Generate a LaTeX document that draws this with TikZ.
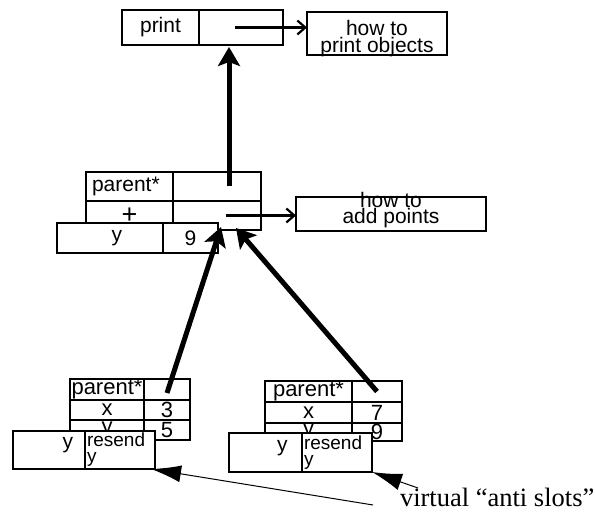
\documentclass[tikz,border=0pt]{standalone}
\usepackage{fontspec}
\setmainfont{Liberation Sans}
\newfontfamily\timesfont{Liberation Serif}
\usetikzlibrary{positioning,arrows.meta}

\begin{document}
\begin{tikzpicture}[x=1pt, y=-1pt,
    every node/.style={inner sep=0pt, outer sep=0pt},
    cell/.style={draw, fill=white, line width=1.2pt, font=\fontsize{21}{15}\selectfont},
    lowcell/.style={cell, font=\fontsize{22}{16}\selectfont},
    slotname/.style={cell, text width=#1, align=right, text height=8pt, text depth=10pt},
    resendcell/.style={cell, text width=66pt, align=left, font=\fontsize{19}{16}\selectfont},
    howbox/.style={draw, line width=1.2pt},
    link/.style={line width=2.2pt, -{Straight Barb[length=8pt,width=14pt]}},
    parentlink/.style={line width=5pt, -{Stealth[length=19pt,width=22pt,inset=4pt]}},
    note/.style={line width=1pt, -{Latex[length=30pt,width=17pt]}}]
  \useasboundingbox (0,0) rectangle (595,518);

  \node [cell, minimum width=77pt, minimum height=35pt] (print) at (160.5,27.5) {print};
  \node [cell, minimum width=84pt, minimum height=35pt, right=0pt of print] (printval) {};
  \node [howbox, minimum width=140pt, minimum height=43pt,
         label={[align=center, yshift=-5pt, font=\fontsize{21}{15}\selectfont]center:how to\\print objects}] (howprint) at (377,33.5) {};

  \node [cell, minimum width=87pt, minimum height=29pt, text width=75pt, align=left] (parent) at (129.5,186.5) {parent*};
  \node [cell, minimum width=88pt, minimum height=29pt, right=0pt of parent] (parentval) {};
  \node [cell, minimum width=87pt, minimum height=29pt, below=0pt of parent, font=\fontsize{27}{20}\selectfont] (plus) {+};
  \node [cell, minimum width=88pt, minimum height=29pt, right=0pt of plus] (plusval) {};
  \node [slotname=24pt, minimum width=106pt, minimum height=30pt, text height=12pt, text depth=5pt] (yslot) at (110,238) {y};
  \node [cell, minimum width=55pt, minimum height=30pt, right=0pt of yslot] (yval) {9};
  \node [howbox, minimum width=190pt, minimum height=34pt,
         label={[align=center, yshift=4pt, font=\fontsize{21}{12}\selectfont]center:how to\\add points}] (howadd) at (391,214) {};

  \node [lowcell, minimum width=74pt, minimum height=21pt] (pa) at (107,389.5) {parent*};
  \node [lowcell, minimum width=46pt, minimum height=21pt, right=0pt of pa] (pav) {};
  \node [lowcell, minimum width=74pt, minimum height=20pt, below=0pt of pa] (px) {x};
  \node [lowcell, minimum width=46pt, minimum height=20pt, right=0pt of px] (pxv) {3};
  \node [lowcell, minimum width=74pt, minimum height=20pt, below=0pt of px] (py) {y};
  \node [lowcell, minimum width=46pt, minimum height=20pt, right=0pt of py] (pyv) {5};
  \node [slotname=48pt, minimum width=72pt, minimum height=38pt] (pslot) at (49,450) {y};
  \node [resendcell, minimum width=70pt, minimum height=38pt, right=0pt of pslot] (pres) {resend\\y};

  \node [lowcell, minimum width=87pt, minimum height=21pt] (qa) at (308.5,391.5) {parent*};
  \node [lowcell, minimum width=50pt, minimum height=21pt, right=0pt of qa] (qav) {};
  \node [lowcell, minimum width=87pt, minimum height=21pt, below=0pt of qa] (qx) {x};
  \node [lowcell, minimum width=50pt, minimum height=21pt, right=0pt of qx] (qxv) {7};
  \node [lowcell, minimum width=87pt, minimum height=18pt, below=0pt of qx] (qy) {y};
  \node [lowcell, minimum width=50pt, minimum height=18pt, right=0pt of qy] (qyv) {9};
  \node [slotname=44pt, minimum width=73pt, minimum height=39pt] (qslot) at (265.5,452.5) {y};
  \node [resendcell, minimum width=70pt, minimum height=39pt, right=0pt of qslot] (qres) {resend\\y};

  \node [font=\timesfont\fontsize{26.5}{30}\selectfont, anchor=base west] (anti) at (400,507) {virtual “anti slots”};

  \draw [link] ([xshift=-6pt]printval.center) -- (howprint.west |- printval.center);
  \draw [link] ([xshift=9pt]plusval.center) -- (howadd.west |- plusval.center);
  \draw [parentlink] ([xshift=12pt]parentval.center) -- ([xshift=-12pt,yshift=-2pt]printval.south);
  \draw [parentlink] ([yshift=-3.5pt]pav.center) -- ([xshift=4pt,yshift=3pt]plusval.south);
  \draw [parentlink] (qav.center) -- ([xshift=19pt,yshift=2pt]plusval.south);
  \draw [note] ([xshift=-27pt,yshift=2pt]anti.base west) -- ([xshift=-4pt]pres.south east);
  \draw [note] ([xshift=18pt,yshift=19pt]anti.base west) -- (qres.south east);
\end{tikzpicture}
\end{document}
